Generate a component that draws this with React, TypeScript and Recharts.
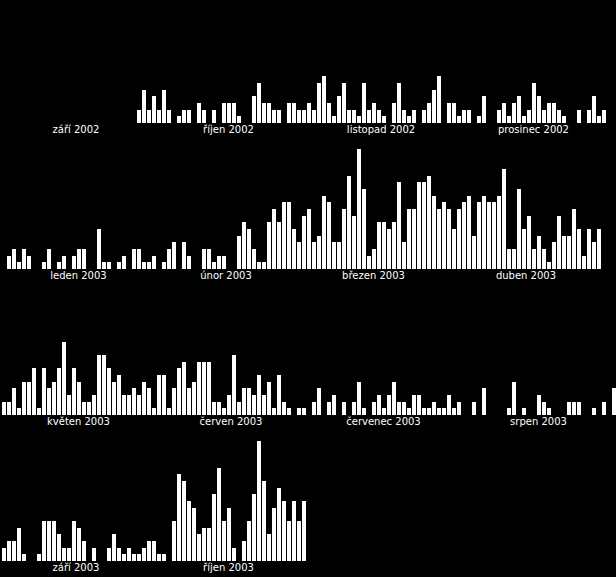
import { Bar, BarChart, XAxis, YAxis } from "recharts";

// daily counts, one array per month (null = before the record starts)
const sep2002 = [
  null, null, null, null, null, null, null, null, null, null,
  null, null, null, null, null, null, null, null, null, null,
  null, null, null, null, null, null, null, 2, 5, 2,
];
const oct2002 = [4, 2, 5, 2, 0, 1, 2, 2, 0, 3, 2, 0, 2, 0, 3, 3, 3, 1, 0, 0, 4, 6, 3, 3, 2, 2, 0, 3, 3, 2, 2];
const nov2002 = [3, 2, 6, 7, 3, 1, 4, 6, 2, 2, 1, 6, 2, 3, 2, 1, 0, 3, 6, 2, 1, 2, 0, 2, 3, 5, 7, 0, 3, 3];
const dec2002 = [1, 2, 2, 0, 1, 4, 0, 0, 2, 3, 1, 3, 4, 1, 2, 6, 4, 2, 3, 3, 2, 1, 0, 0, 2, 0, 2, 4, 1, 2, 0];

const jan2003 = [0, 2, 3, 1, 3, 2, 0, 0, 1, 3, 0, 1, 2, 0, 2, 3, 3, 0, 0, 6, 1, 1, 0, 1, 2, 0, 3, 3, 1, 1, 2];
const feb2003 = [0, 1, 3, 4, 0, 4, 2, 0, 0, 3, 3, 1, 2, 2, 0, 0, 5, 7, 6, 3, 1, 1, 7, 9, 7, 10, 10, 6];
const mar2003 = [4, 8, 9, 4, 5, 11, 10, 4, 4, 9, 14, 8, 18, 12, 2, 3, 7, 7, 6, 7, 13, 4, 9, 9, 13, 13, 14, 11, 9, 10, 9];
const apr2003 = [6, 9, 10, 11, 5, 10, 11, 10, 10, 11, 15, 3, 3, 12, 6, 8, 3, 5, 3, 1, 4, 8, 5, 5, 9, 6, 2, 6, 4, 6];

const may2003 = [2, 2, 4, 1, 5, 5, 7, 1, 7, 4, 5, 7, 11, 3, 7, 5, 2, 2, 3, 9, 9, 7, 5, 6, 3, 3, 4, 3, 5, 4, 1];
const jun2003 = [6, 6, 1, 4, 7, 8, 4, 5, 8, 8, 8, 2, 2, 1, 3, 9, 2, 4, 4, 3, 6, 3, 5, 1, 6, 2, 1, 0, 1, 1];
const jul2003 = [0, 2, 4, 0, 2, 3, 0, 2, 0, 2, 5, 1, 0, 2, 3, 1, 3, 5, 2, 2, 1, 3, 3, 1, 1, 2, 1, 1, 3, 1, 2];
const aug2003 = [0, 0, 2, 0, 4, 0, 0, 0, 0, 1, 5, 0, 1, 0, 0, 3, 2, 1, 0, 0, 0, 2, 2, 2, 0, 0, 1, 0, 2, 0, 4];

const sep2003 = [2, 3, 3, 5, 1, 0, 0, 1, 6, 6, 6, 4, 2, 2, 6, 5, 3, 0, 2, 0, 0, 2, 4, 2, 1, 2, 1, 1, 2, 3];
const oct2003 = [3, 1, 1, 0, 6, 13, 12, 9, 8, 4, 5, 5, 10, 14, 6, 8, 2, 0, 3, 6, 10, 18, 12, 4, 8, 11, 9, 6, 9, 6, 9];

interface Month {
  label: string;
  values: (number | null)[];
}

const rows: Month[][] = [
  [
    { label: "září 2002", values: sep2002 },
    { label: "říjen 2002", values: oct2002 },
    { label: "listopad 2002", values: nov2002 },
    { label: "prosinec 2002", values: dec2002 },
  ],
  [
    { label: "leden 2003", values: jan2003 },
    { label: "únor 2003", values: feb2003 },
    { label: "březen 2003", values: mar2003 },
    { label: "duben 2003", values: apr2003 },
  ],
  [
    { label: "květen 2003", values: may2003 },
    { label: "červen 2003", values: jun2003 },
    { label: "červenec 2003", values: jul2003 },
    { label: "srpen 2003", values: aug2003 },
  ],
  [
    { label: "září 2003", values: sep2003 },
    { label: "říjen 2003", values: oct2003 },
  ],
];

const DAY = 5;
const ROW_H = 146;
const MAX = 18;

function PixelBar(props: any) {
  const { x, y, width, height } = props;
  if (!height || height <= 0) return null;
  const top = Math.round(y);
  const bottom = Math.round(y + height);
  return <rect x={Math.round(x)} y={top} width={width} height={bottom - top} fill="#fff" />;
}

function MonthRow({ months }: { months: Month[] }) {
  const data: { key: string; value: number | null }[] = [];
  const ticks: string[] = [];
  const tickInfo: Record<string, { label: string; shift: number }> = {};

  months.forEach((m, mi) => {
    m.values.forEach((v, di) => data.push({ key: `${mi}-${di}`, value: v }));
    const mid = `${mi}-${Math.floor(m.values.length / 2)}`;
    ticks.push(mid);
    tickInfo[mid] = { label: m.label, shift: m.values.length % 2 === 0 ? -DAY / 2 : 0 };
  });

  const renderTick = (p: any) => {
    const info = tickInfo[p.payload.value];
    if (!info) return <g />;
    return (
      <text
        x={p.x + info.shift}
        y={p.y + 10}
        textAnchor="middle"
        fill="#fff"
        fontSize={10}
        fontFamily="DejaVu Sans"
      >
        {info.label}
      </text>
    );
  };

  return (
    <BarChart
      width={1 + data.length * DAY}
      height={ROW_H}
      data={data}
      margin={{ top: 3, right: 0, bottom: 0, left: 1 }}
      barCategoryGap={0}
    >
      <XAxis
        dataKey="key"
        ticks={ticks}
        interval={0}
        axisLine={false}
        tickLine={false}
        tickSize={0}
        tickMargin={0}
        height={23}
        tick={renderTick}
      />
      <YAxis hide domain={[0, MAX]} allowDataOverflow />
      <Bar dataKey="value" barSize={4} fill="#fff" shape={PixelBar} isAnimationActive={false} />
    </BarChart>
  );
}

export default function App() {
  return (
    <div
      style={{
        position: "absolute",
        left: 0,
        top: 0,
        width: 616,
        height: 577,
        background: "#000",
        overflow: "hidden",
      }}
    >
      {rows.map((months, i) => (
        <div key={i} style={{ height: ROW_H }}>
          <MonthRow months={months} />
        </div>
      ))}
    </div>
  );
}
